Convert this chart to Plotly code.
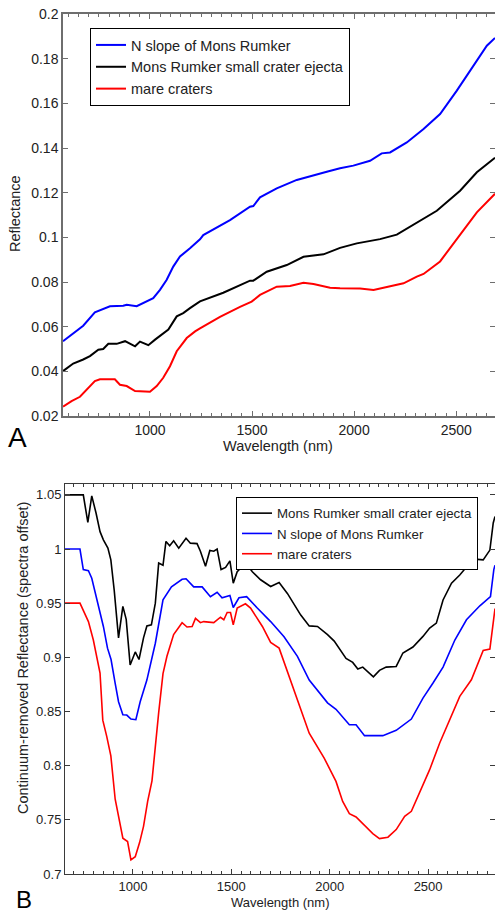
import plotly.graph_objects as go

# ---------------- Panel A: reflectance spectra ----------------
a_nslope_nm = [574, 624, 673, 730, 755, 804, 869, 886, 935, 984, 1016, 1049, 1082, 1114, 1147, 1196,
               1245, 1261, 1330, 1392, 1490, 1506, 1539, 1621, 1719, 1801, 1866, 1931, 1996, 2078, 2135,
               2176, 2258, 2340, 2421, 2503, 2585, 2650, 2690]
a_nslope_refl = [0.0535, 0.0572, 0.0604, 0.0664, 0.0673, 0.0691, 0.0694, 0.0698, 0.0692, 0.0713, 0.0728,
                 0.0765, 0.0810, 0.0869, 0.0914, 0.0951, 0.0991, 0.1010, 0.1045, 0.1077, 0.1137, 0.1140,
                 0.1179, 0.1219, 0.1257, 0.1279, 0.1294, 0.1309, 0.1321, 0.1343, 0.1376, 0.1380, 0.1425,
                 0.1485, 0.1552, 0.1657, 0.1769, 0.1858, 0.1893]

a_ejecta_nm = [574, 624, 673, 706, 747, 771, 796, 837, 878, 902, 927, 951, 967, 992, 1025, 1065, 1090,
               1131, 1163, 1196, 1229, 1245, 1359, 1441, 1490, 1506, 1572, 1670, 1752, 1850, 1931, 2013,
               2127, 2209, 2307, 2405, 2519, 2601, 2690]
a_ejecta_refl = [0.0401, 0.0435, 0.0453, 0.0468, 0.0497, 0.0500, 0.0523, 0.0523, 0.0535, 0.0524, 0.0512,
                 0.0533, 0.0527, 0.0517, 0.0542, 0.0572, 0.0587, 0.0646, 0.0661, 0.0683, 0.0705, 0.0713,
                 0.0752, 0.0786, 0.0806, 0.0806, 0.0846, 0.0876, 0.0913, 0.0924, 0.0953, 0.0973, 0.0992,
                 0.1012, 0.1067, 0.1119, 0.1209, 0.1291, 0.1356]

a_mare_nm = [574, 616, 657, 690, 730, 755, 828, 853, 886, 927, 1000, 1033, 1065, 1098, 1131, 1180, 1221,
             1245, 1343, 1441, 1498, 1539, 1621, 1686, 1752, 1801, 1882, 1931, 2029, 2095, 2176, 2242,
             2307, 2340, 2421, 2519, 2601, 2690]
a_mare_refl = [0.0242, 0.0267, 0.0286, 0.0319, 0.0356, 0.0364, 0.0364, 0.0340, 0.0334, 0.0312, 0.0309,
               0.0334, 0.0371, 0.0423, 0.0490, 0.0549, 0.0579, 0.0592, 0.0644, 0.0689, 0.0712, 0.0742,
               0.0779, 0.0782, 0.0797, 0.0791, 0.0774, 0.0772, 0.0771, 0.0764, 0.0782, 0.0794, 0.0824,
               0.0836, 0.0892, 0.1012, 0.1112, 0.1195]

a_xticks = [1000, 1500, 2000, 2500]
a_xticklabels = ["1000", "1500", "2000", "2500"]
a_yticks = [0.02, 0.04, 0.06, 0.08, 0.1, 0.12, 0.14, 0.16, 0.18, 0.2]
a_yticklabels = ["0.02", "0.04", "0.06", "0.08", "0.1", "0.12", "0.14", "0.16", "0.18", "0.2"]

# ---------------- Panel B: continuum-removed spectra ----------------
b_ejecta_nm = [655, 748, 771, 791, 813, 833, 850, 873, 888, 905, 927, 949, 966, 986, 1012, 1031, 1054,
               1071, 1094, 1114, 1131, 1153, 1168, 1187, 1207, 1233, 1270, 1292, 1326, 1343, 1369, 1391,
               1411, 1428, 1448, 1471, 1493, 1510, 1530, 1556, 1578, 1607, 1649, 1700, 1743, 1785, 1853,
               1896, 1938, 1989, 2023, 2058, 2083, 2117, 2143, 2168, 2194, 2222, 2253, 2287, 2338, 2372,
               2423, 2474, 2508, 2542, 2576, 2619, 2661, 2712, 2738, 2780, 2814, 2831, 2840]
b_ejecta_cr = [1.05, 1.05, 1.0245, 1.049, 1.033, 1.016, 1.0085, 1.0008, 0.99, 0.962, 0.918, 0.947, 0.935,
               0.893, 0.905, 0.898, 0.918, 0.929, 0.930, 0.95, 0.987, 0.985, 1.007, 1.003, 1.0076, 1.0008,
               1.010, 1.0054, 1.005, 0.998, 0.984, 0.9986, 0.998, 1.0, 0.981, 0.983, 0.989, 0.9685, 0.979,
               0.984, 0.986, 0.979, 0.9716, 0.9654, 0.969, 0.959, 0.939, 0.929, 0.9285, 0.921, 0.915,
               0.9055, 0.899, 0.8953, 0.8892, 0.891, 0.887, 0.882, 0.888, 0.891, 0.8916, 0.904, 0.9095,
               0.9193, 0.927, 0.9316, 0.953, 0.9685, 0.976, 0.987, 0.9907, 0.990, 0.999, 1.024, 1.03]

b_nslope_nm = [655, 731, 748, 774, 791, 825, 850, 871, 889, 910, 927, 949, 969, 990, 1015, 1037, 1071,
               1114, 1153, 1196, 1250, 1270, 1309, 1352, 1394, 1428, 1453, 1493, 1510, 1539, 1578, 1632,
               1700, 1768, 1836, 1896, 1930, 1989, 2032, 2066, 2100, 2134, 2177, 2270, 2338, 2415, 2474,
               2525, 2576, 2636, 2695, 2763, 2817, 2834, 2840]
b_nslope_cr = [1.0, 1.0, 0.981, 0.980, 0.973, 0.947, 0.9285, 0.9085, 0.898, 0.876, 0.859, 0.847, 0.8467,
               0.843, 0.8424, 0.859, 0.879, 0.913, 0.953, 0.965, 0.972, 0.9725, 0.965, 0.965, 0.956, 0.960,
               0.955, 0.957, 0.946, 0.955, 0.956, 0.9455, 0.933, 0.919, 0.9009, 0.879, 0.8716, 0.858,
               0.852, 0.845, 0.8378, 0.8378, 0.8277, 0.8277, 0.8326, 0.843, 0.8624, 0.8763, 0.891, 0.916,
               0.9347, 0.9476, 0.956, 0.981, 0.985]

b_mare_nm = [655, 731, 774, 799, 833, 847, 867, 888, 910, 932, 949, 973, 990, 1012, 1034, 1054, 1075,
             1097, 1110, 1131, 1153, 1173, 1207, 1250, 1275, 1301, 1318, 1343, 1360, 1411, 1445, 1462,
             1479, 1496, 1510, 1530, 1572, 1598, 1658, 1700, 1743, 1794, 1853, 1896, 1972, 2032, 2066,
             2100, 2134, 2185, 2219, 2253, 2296, 2338, 2381, 2415, 2457, 2508, 2559, 2610, 2661, 2720,
             2780, 2814, 2834, 2840]
b_mare_cr = [0.95, 0.95, 0.933, 0.916, 0.8855, 0.842, 0.827, 0.809, 0.769, 0.747, 0.733, 0.730, 0.713,
             0.716, 0.729, 0.744, 0.767, 0.786, 0.812, 0.849, 0.885, 0.901, 0.921, 0.932, 0.928, 0.9285,
             0.936, 0.932, 0.933, 0.932, 0.937, 0.9347, 0.9414, 0.9414, 0.930, 0.9455, 0.9494, 0.9455,
             0.9285, 0.9138, 0.9085, 0.8824, 0.8517, 0.830, 0.807, 0.7855, 0.767, 0.7557, 0.7527, 0.744,
             0.7373, 0.7327, 0.734, 0.741, 0.7533, 0.7579, 0.7748, 0.7963, 0.8209, 0.8424, 0.864, 0.8793,
             0.9064, 0.9076, 0.9378, 0.945]

b_xticks = [1000, 1500, 2000, 2500]
b_xticklabels = ["1000", "1500", "2000", "2500"]
b_yticks = [0.7, 0.75, 0.8, 0.85, 0.9, 0.95, 1.0, 1.05]
b_yticklabels = ["0.7", "0.75", "0.8", "0.85", "0.9", "0.95", "1", "1.05"]

name_nslope = "N slope of Mons Rumker"
name_ejecta = "Mons Rumker small crater ejecta"
name_mare = "mare craters"

BLUE = "#0000ff"
BLACK = "#000000"
RED = "#ff0000"
FONT = "Liberation Sans, Arial, sans-serif"
TXT = "#222222"

W, H = 495, 913

fig = go.Figure()

# Panel A traces (legend order: blue, black, red)
fig.add_trace(go.Scatter(x=a_nslope_nm, y=a_nslope_refl, mode="lines", name=name_nslope,
                         line=dict(color=BLUE, width=2), xaxis="x", yaxis="y", legend="legend"))
fig.add_trace(go.Scatter(x=a_ejecta_nm, y=a_ejecta_refl, mode="lines", name=name_ejecta,
                         line=dict(color=BLACK, width=2), xaxis="x", yaxis="y", legend="legend"))
fig.add_trace(go.Scatter(x=a_mare_nm, y=a_mare_refl, mode="lines", name=name_mare,
                         line=dict(color=RED, width=2), xaxis="x", yaxis="y", legend="legend"))

# Panel B traces (legend order: black, blue, red)
fig.add_trace(go.Scatter(x=b_ejecta_nm, y=b_ejecta_cr, mode="lines", name=name_ejecta,
                         line=dict(color=BLACK, width=1.6), xaxis="x2", yaxis="y2", legend="legend2"))
fig.add_trace(go.Scatter(x=b_nslope_nm, y=b_nslope_cr, mode="lines", name=name_nslope,
                         line=dict(color=BLUE, width=1.6), xaxis="x2", yaxis="y2", legend="legend2"))
fig.add_trace(go.Scatter(x=b_mare_nm, y=b_mare_cr, mode="lines", name=name_mare,
                         line=dict(color=RED, width=1.6), xaxis="x2", yaxis="y2", legend="legend2"))

def px_x(p):
    return p / W

def px_y(p):
    return 1 - p / H

axis_a = dict(showline=True, linecolor="#6e6e6e", linewidth=1.5, mirror="ticks", ticks="inside",
              tickcolor="#6e6e6e", tickwidth=1, showgrid=False, zeroline=False, automargin=False,
              tickfont=dict(family=FONT, size=14, color=TXT))
axis_b = dict(showline=True, linecolor="#3a3a3a", linewidth=1, mirror="ticks", ticks="inside",
              tickcolor="#3a3a3a", tickwidth=1, showgrid=False, zeroline=False, automargin=False,
              tickfont=dict(family=FONT, size=13, color=TXT))

def note(text, x, y, size, angle=0, color=TXT):
    return dict(text=text, x=px_x(x), y=px_y(y), xref="paper", yref="paper",
                xanchor="center", yanchor="middle", textangle=angle, showarrow=False,
                font=dict(family=FONT, size=size, color=color))

fig.update_layout(
    width=W, height=H, autosize=False,
    margin=dict(l=0, r=0, t=0, b=0, pad=0, autoexpand=False),
    paper_bgcolor="white", plot_bgcolor="white",
    font=dict(family=FONT, color=TXT),
    xaxis=dict(domain=[px_x(63), 1], anchor="y", range=[574, 2690],
               tickvals=a_xticks, ticktext=a_xticklabels, ticklen=5,
               minor=dict(tickmode="linear", tick0=0, dtick=50, ticks="inside", ticklen=3,
                          tickcolor="#6e6e6e"),
               **axis_a),
    yaxis=dict(domain=[px_y(416), px_y(14)], anchor="x", range=[0.02, 0.2],
               tickvals=a_yticks, ticktext=a_yticklabels, ticklen=5, **axis_a),
    xaxis2=dict(domain=[px_x(65), 1], anchor="y2", range=[655, 2840],
                tickvals=b_xticks, ticktext=b_xticklabels, ticklen=5,
                minor=dict(tickmode="linear", tick0=0, dtick=50, ticks="inside", ticklen=3,
                           tickcolor="#3a3a3a"),
                **axis_b),
    yaxis2=dict(domain=[px_y(874), px_y(484)], anchor="x2", range=[0.7, 1.06],
                tickvals=b_yticks, ticktext=b_yticklabels, ticklen=5, **axis_b),
    legend=dict(x=px_x(90), y=px_y(28), xanchor="left", yanchor="top",
                bordercolor="black", borderwidth=1, bgcolor="white",
                font=dict(family=FONT, size=14.5, color=TXT), tracegroupgap=0),
    legend2=dict(x=px_x(236), y=px_y(497), xanchor="left", yanchor="top",
                 bordercolor="black", borderwidth=1, bgcolor="white",
                 font=dict(family=FONT, size=13.3, color=TXT), tracegroupgap=0),
    annotations=[
        note("Reflectance", 15, 214, 14.5, -90),
        note("Wavelength (nm)", 278, 446, 14.5),
        note("A", 17, 437, 28, color="black"),
        note("Continuum-removed Reflectance (spectra offset)", 23, 658, 14.5, -90),
        note("Wavelength (nm)", 280, 902, 13),
        note("B", 24, 899, 24, color="black"),
    ],
)

fig.write_html("out.html", config={"displayModeBar": False},
               post_script="document.body.style.margin='0';")
